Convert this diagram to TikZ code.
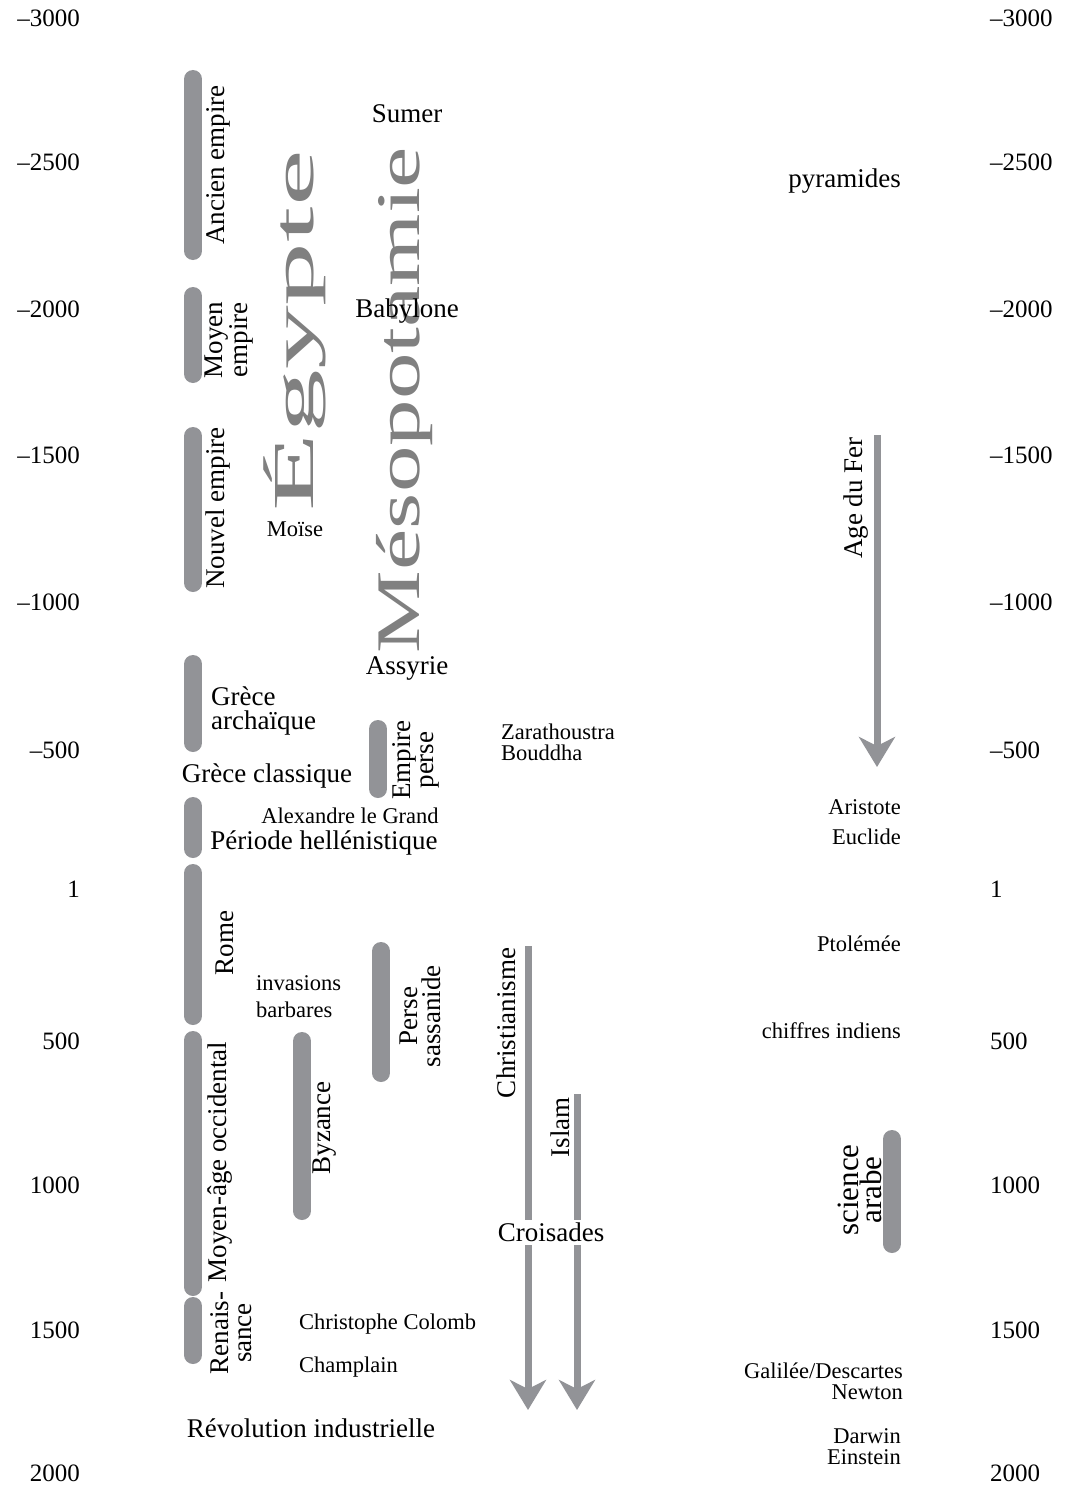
\documentclass[tikz,border=0pt]{standalone}
\usepackage{fontspec}
\setmainfont{Liberation Serif}
\usepackage{graphicx}
\usetikzlibrary{arrows.meta}

\definecolor{bargray}{RGB}{146,147,151}
\definecolor{titlegray}{RGB}{128,128,128}

\begin{document}
\begin{tikzpicture}[x=1pt,y=-1pt,
    period/.style={line width=18pt, line cap=round, bargray},
    flow/.style={line width=7pt, bargray, -{Stealth[length=30pt,width=36pt,inset=9pt]}},
    lbl/.style={inner sep=1pt, font=\fontsize{27}{23}\selectfont},
    slbl/.style={inner sep=1pt, font=\fontsize{22.5}{21}\selectfont},
    num/.style={inner sep=0pt, font=\fontsize{25}{25}\selectfont},
    up/.style={rotate=90, align=center}]
    \useasboundingbox (0,0) rectangle (1067,1485);

    % Time scale, both sides
    \foreach \yr/\ypos in {–3000/18, –2500/162, –2000/309, –1500/455, –1000/602,
                           –500/750, 1/889, 500/1041, 1000/1185, 1500/1330, 2000/1473} {
        \node[num, anchor=east] (yl\ypos) at (80,\ypos) {\yr};
        \node[num, anchor=west] (yr\ypos) at (990,\ypos) {\yr};
    }

    % Periods, left column
    \foreach \a/\b in {79/251, 296/374, 436/583, 664/743, 806/849, 873/1016, 1040/1287, 1306/1355}
        \draw[period] (193,\a) -- (193,\b);

    % Other periods
    \draw[period] (378,729) -- (378,789);    % Empire perse
    \draw[period] (381,951) -- (381,1073);   % Perse sassanide
    \draw[period] (302,1041) -- (302,1211);  % Byzance
    \draw[period] (892,1139) -- (892,1244);  % science arabe

    % Big names
    \node[up, inner sep=0pt, text=titlegray, font=\fontsize{58}{58}\selectfont]
        (egypte) at (295,331) {\scalebox{2.2}[1]{Égypte}};
    \node[up, inner sep=0pt, text=titlegray, font=\fontsize{62}{62}\selectfont]
        (mesopo) at (405,400) {\scalebox{1.5}[1]{Mésopotamie}};

    % Egypt and Greece
    \node[lbl, up] (ancien) at (218,165) {Ancien empire};
    \node[lbl, up] (moyen) at (229,340) {Moyen\\empire};
    \node[lbl, up] (nouvel) at (218,508) {Nouvel empire};
    \node[slbl] (moise) at (295,529) {Moïse};
    \node[lbl, align=left, anchor=west, font=\fontsize{27}{24}\selectfont]
        (archaique) at (210,711) {Grèce\\archaïque};
    \node[lbl] (classique) at (267,776) {Grèce classique};
    \node[slbl] (alexandre) at (350,816) {Alexandre le Grand};
    \node[lbl] (hellen) at (324,843) {Période hellénistique};

    % Mesopotamia and Persia
    \node[lbl] (sumer) at (407,114) {Sumer};
    \node[lbl] (babylone) at (407,311) {Babylone};
    \node[lbl] (assyrie) at (407,668) {Assyrie};
    \node[lbl, up] (perse) at (416,760) {Empire\\perse};
    \node[slbl, align=left, anchor=west] (zara) at (500,742) {Zarathoustra\\Bouddha};

    % Rome and after
    \node[lbl, up] (rome) at (225,943) {Rome};
    \node[slbl, align=left, anchor=west, font=\fontsize{22.5}{27}\selectfont]
        (invasions) at (255,997) {invasions\\barbares};
    \node[lbl, up] (sassanide) at (420,1016) {Perse\\sassanide};
    \node[lbl, up] (byzance) at (325,1128) {Byzance};
    \node[lbl, up] (moyenage) at (220,1162) {Moyen-âge occidental};
    \node[lbl, up] (renais) at (231,1333) {Renais-\\sance};
    \node[slbl, anchor=west] (colomb) at (298,1324) {Christophe Colomb};
    \node[slbl, anchor=west] (champlain) at (298,1367) {Champlain};
    \node[lbl] (revolution) at (311,1428) {Révolution industrielle};

    % Religions
    \coordinate (chr-start) at (528,946);
    \coordinate (chr-end) at (528,1410);
    \coordinate (isl-start) at (577,1094);
    \coordinate (isl-end) at (577,1410);
    \draw[flow] (chr-start) -- (chr-end);
    \draw[flow] (isl-start) -- (isl-end);
    \node[lbl, up] (christ) at (506,1023) {Christianisme};
    \node[lbl, up] (islam) at (560,1127) {Islam};
    \node[lbl, fill=white, inner sep=3pt] (croisades) at (551,1232) {Croisades};

    % Sciences and techniques
    \coordinate (fer-start) at (877,435);
    \coordinate (fer-end) at (877,767);
    \draw[flow] (fer-start) -- (fer-end);
    \node[lbl, up] (fer) at (856,498) {Age du Fer};
    \node[lbl, anchor=east] (pyramides) at (902,181) {pyramides};
    \node[slbl, anchor=east] (aristote) at (902,807) {Aristote};
    \node[slbl, anchor=east] (euclide) at (902,837) {Euclide};
    \node[slbl, anchor=east] (ptolemee) at (902,944) {Ptolémée};
    \node[slbl, anchor=east] (chiffres) at (902,1031) {chiffres indiens};
    \node[up, inner sep=1pt, font=\fontsize{31}{23}\selectfont] (science) at (860,1190) {science\\arabe};
    \node[slbl, align=right, anchor=east] (galilee) at (904,1381) {Galilée/Descartes\\Newton};
    \node[slbl, align=right, anchor=east] (darwin) at (902,1447) {Darwin\\Einstein};
\end{tikzpicture}
\end{document}
